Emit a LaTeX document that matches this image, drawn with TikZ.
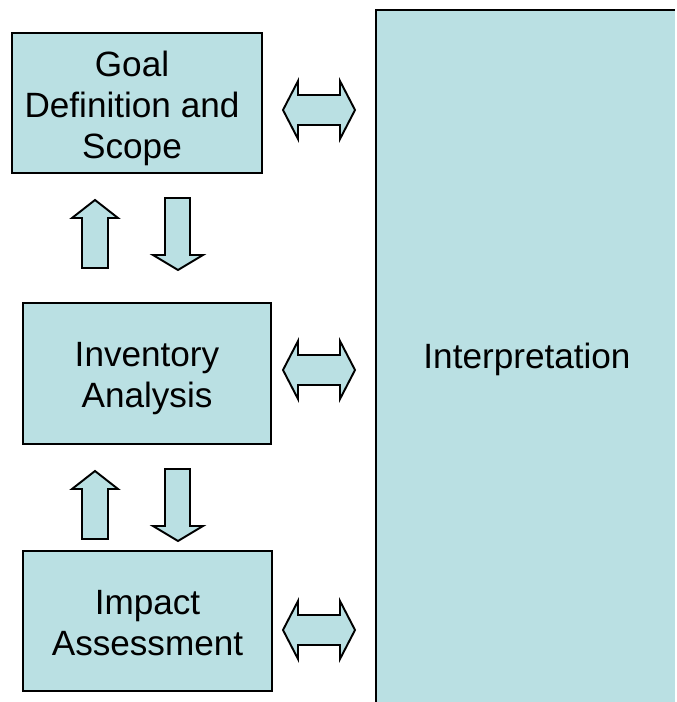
\documentclass[tikz,border=0pt]{standalone}
\usepackage{fontspec}
\setmainfont{Liberation Sans}
\definecolor{lcablue}{RGB}{186,224,227}

\begin{document}
\begin{tikzpicture}[x=0.02cm,y=-0.02cm,
        stage/.style={draw=black,line width=1.1pt,fill=lcablue},
        blockarrow/.style={draw=black,line width=1.1pt,fill=lcablue,line join=miter},
        label/.style={align=center,font=\fontsize{20pt}{23.4pt}\selectfont}]
            \useasboundingbox (0,0) rectangle (676,702);
            \fill[lcablue] (376,10) rectangle (675,702);
            \draw[line width=0.9pt] (376,702) -- (376,10) -- (675,10);
            \node[label] (interp) at (527,359) {Interpretation};
            \draw[stage] (12,33) rectangle (262,173) node[midway,label,xshift=-0.1cm,yshift=-0.11cm] (goal) {Goal\\Definition and\\Scope};
            \draw[stage] (23,303) rectangle (271,444) node[midway,label,yshift=-0.11cm] (inventory) {Inventory\\Analysis};
            \draw[stage] (23,551) rectangle (272,691) node[midway,label,yshift=-0.04cm] (impact) {Impact\\Assessment};
            \foreach \yc in {110,370,630}
                \draw[blockarrow] (283,\yc) -- (298,\yc-29) -- (298,\yc-15) -- (340,\yc-15) -- (340,\yc-29)
                    -- (355,\yc) -- (340,\yc+29) -- (340,\yc+15) -- (298,\yc+15) -- (298,\yc+29) -- cycle;
            \foreach \yo in {0,271} {
                \draw[blockarrow] (82,268+\yo) -- (82,218+\yo) -- (72,218+\yo) -- (95,200+\yo)
                    -- (118,218+\yo) -- (108,218+\yo) -- (108,268+\yo) -- cycle;
                \draw[blockarrow] (165,198+\yo) -- (165,255+\yo) -- (153,255+\yo) -- (178,270+\yo)
                    -- (203,255+\yo) -- (190,255+\yo) -- (190,198+\yo) -- cycle;
            }
        \end{tikzpicture}
\end{document}
